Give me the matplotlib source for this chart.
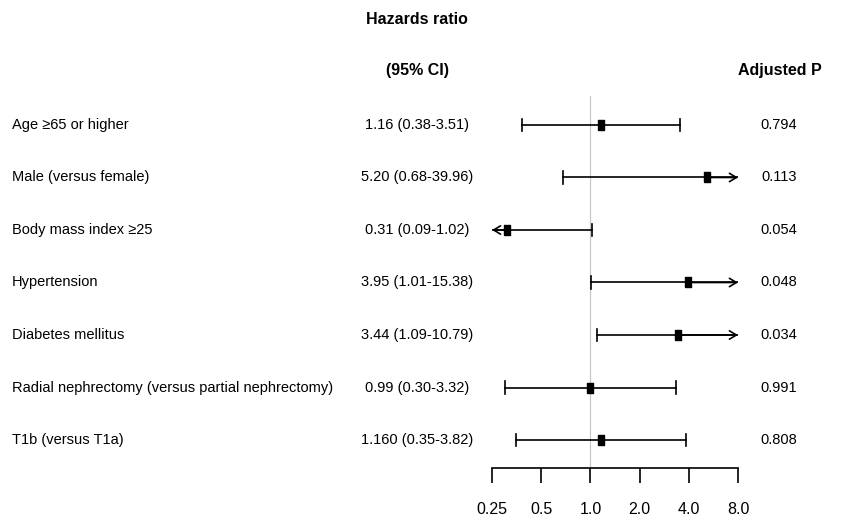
import matplotlib
matplotlib.use("Agg")
import matplotlib.pyplot as plt
from matplotlib.transforms import blended_transform_factory

plt.rcParams['font.family'] = ['Liberation Sans', 'DejaVu Sans']

# data
labels = [
    "Age \u226565 or higher",
    "Male (versus female)",
    "Body mass index \u226525",
    "Hypertension",
    "Diabetes mellitus",
    "Radial nephrectomy (versus partial nephrectomy)",
    "T1b (versus T1a)",
]
hr = [1.16, 5.20, 0.31, 3.95, 3.44, 0.99, 1.16]
ci_low = [0.38, 0.68, 0.09, 1.01, 1.09, 0.30, 0.35]
ci_high = [3.51, 39.96, 1.02, 15.38, 10.79, 3.32, 3.82]
hr_text = [
    "1.16 (0.38-3.51)",
    "5.20 (0.68-39.96)",
    "0.31 (0.09-1.02)",
    "3.95 (1.01-15.38)",
    "3.44 (1.09-10.79)",
    "0.99 (0.30-3.32)",
    "1.160 (0.35-3.82)",
]
p_adj = ["0.794", "0.113", "0.054", "0.048", "0.034", "0.991", "0.808"]
ticks = [0.25, 0.5, 1.0, 2.0, 4.0, 8.0]
tick_labels = ["0.25", "0.5", "1.0", "2.0", "4.0", "8.0"]

FS = 10.5       # row text
FS_HEAD = 11.5  # bold headers
FS_TICK = 11.5
xmin, xmax = ticks[0], ticks[-1]

fig = plt.figure(figsize=(8.41, 5.23), dpi=100)
ax = fig.add_axes([492 / 841, 55 / 523, 246 / 841, 372 / 523])
ax.set_xscale('log', base=2)
ax.set_xlim(xmin, xmax)
ax.set_ylim(6.533, -0.552)

rows = list(range(len(labels)))

# reference line at HR = 1
ax.axvline(1.0, color='#c8c8c8', lw=0.9, zorder=0)

# slightly tall rectangle like the reference point marker
box = [(-0.33, -0.5), (0.33, -0.5), (0.33, 0.5), (-0.33, 0.5), (-0.33, -0.5)]
arrow = dict(arrowstyle='->,head_length=0.5,head_width=0.3',
             lw=1.2, color='black', shrinkA=0, shrinkB=0)
cap = 0.115
for y, h, lo, hi in zip(rows, hr, ci_low, ci_high):
    lo_c = max(lo, xmin)
    hi_c = min(hi, xmax)
    ax.plot([lo_c, hi_c], [y, y], color='black', lw=1.2, zorder=2)
    if lo >= xmin:
        ax.plot([lo, lo], [y - cap, y + cap], color='black', lw=1.2)
    else:
        ax.annotate('', xy=(xmin, y), xytext=(h, y), arrowprops=arrow)
    if hi <= xmax:
        ax.plot([hi, hi], [y - cap, y + cap], color='black', lw=1.2)
    else:
        ax.annotate('', xy=(xmax, y), xytext=(h, y), arrowprops=arrow)
    ax.plot(h, y, marker=box, ms=7, color='black', zorder=3)

for s in ['top', 'right', 'left']:
    ax.spines[s].set_visible(False)
ax.spines['bottom'].set_linewidth(1.2)
ax.set_yticks([])
ax.set_xticks(ticks)
ax.set_xticklabels(tick_labels, fontsize=FS_TICK)
ax.xaxis.set_minor_locator(plt.NullLocator())
ax.tick_params(axis='x', direction='out', length=10.5, width=1.2, pad=14)

# text columns: x in figure fraction, y on the row scale
tr = blended_transform_factory(fig.transFigure, ax.transData)
for y, lab, t, p in zip(rows, labels, hr_text, p_adj):
    ax.text(12 / 841, y, lab, transform=tr, fontsize=FS, ha='left', va='center', clip_on=False)
    ax.text(417 / 841, y, t, transform=tr, fontsize=FS, ha='center', va='center', clip_on=False)
    ax.text(779 / 841, y, p, transform=tr, fontsize=FS, ha='center', va='center', clip_on=False)

ax.text(417 / 841, -2.0, "Hazards ratio", transform=tr, fontsize=FS_HEAD, fontweight='bold',
        ha='center', va='center', clip_on=False)
ax.text(417 / 841, -1.03, "(95% CI)", transform=tr, fontsize=FS_HEAD, fontweight='bold',
        ha='center', va='center', clip_on=False)
ax.text(780 / 841, -1.03, "Adjusted P", transform=tr, fontsize=FS_HEAD, fontweight='bold',
        ha='center', va='center', clip_on=False)

fig.savefig("out.png", dpi=100)
plt.close(fig)
